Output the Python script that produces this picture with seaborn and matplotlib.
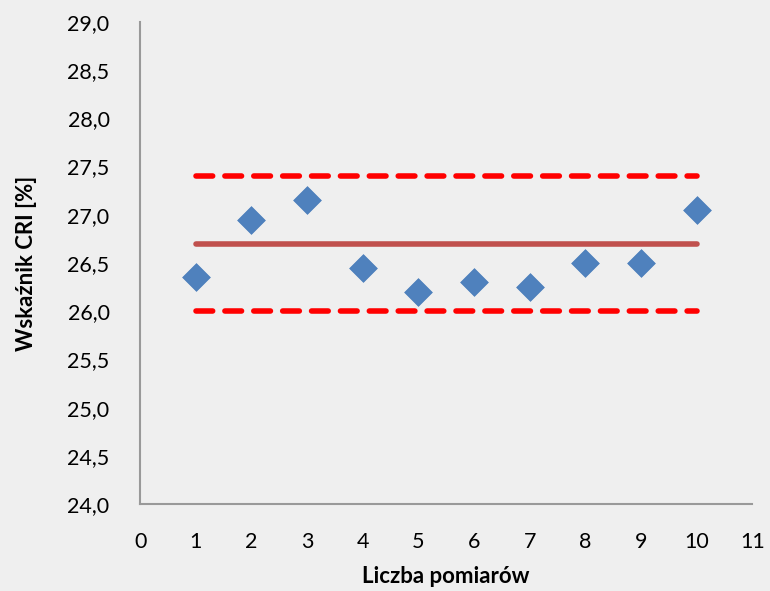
import matplotlib
matplotlib.use("Agg")
import matplotlib.pyplot as plt
import matplotlib.font_manager as fm
import seaborn as sns
import pandas as pd

# Measurement results
pomiary = [1, 2, 3, 4, 5, 6, 7, 8, 9, 10]
cri = [26.35, 26.95, 27.15, 26.45, 26.2, 26.3, 26.25, 26.5, 26.5, 27.05]

# Mean and control limits
srednia = 26.7
granica_gorna = 27.4
granica_dolna = 26.0

x_ticks = list(range(0, 12))
y_ticks = [24.0, 24.5, 25.0, 25.5, 26.0, 26.5, 27.0, 27.5, 28.0, 28.5, 29.0]

bg = "#efefef"
sns.set_theme(style="white")
names = {f.name for f in fm.fontManager.ttflist}
family = "Liberation Sans Narrow" if "Liberation Sans Narrow" in names else "Lato"
plt.rcParams["font.family"] = [family, "DejaVu Sans"]

fig = plt.figure(figsize=(7.7, 5.91), dpi=100, facecolor=bg)
ax = fig.add_axes([0.182, 0.147, 0.795, 0.816], facecolor=bg)

df = pd.DataFrame({"x": pomiary, "y": cri})
lines = pd.DataFrame({
    "x": [pomiary[0], pomiary[-1]],
    "mean": [srednia, srednia],
    "upper": [granica_gorna, granica_gorna],
    "lower": [granica_dolna, granica_dolna],
})

for col in ["upper", "lower"]:
    sns.lineplot(data=lines, x="x", y=col, ax=ax, color="#ff0000", lw=4,
                 dashes=False, solid_capstyle="round")
    ax.lines[-1].set_linestyle((0, (3.0, 2.2)))
    ax.lines[-1].set_dash_capstyle("round")

sns.lineplot(data=lines, x="x", y="mean", ax=ax, color="#c0504d", lw=4,
             solid_capstyle="round")

sns.scatterplot(data=df, x="x", y="y", ax=ax, marker="D", s=200,
                color="#4f81bd", edgecolor="#4a7ebb", linewidth=0.5, zorder=5)

ax.set_xlim(0, 11)
ax.set_ylim(24, 29)
ax.set_xticks(x_ticks)
ax.set_xticklabels([str(t) for t in x_ticks])
ax.set_yticks(y_ticks)
ax.set_yticklabels([f"{t:.1f}".replace(".", ",") for t in y_ticks])
ax.tick_params(axis="both", length=0, labelsize=15.5, colors="#000000")
ax.tick_params(axis="x", pad=20)
ax.tick_params(axis="y", pad=22)

for s in ["top", "right"]:
    ax.spines[s].set_visible(False)
for s in ["left", "bottom"]:
    ax.spines[s].set_color("#999999")
    ax.spines[s].set_linewidth(1.5)

ax.set_xlabel("Liczba pomiarów", fontsize=16, fontweight="bold", labelpad=10,
              color="#000000")
ax.set_ylabel("Wskaźnik CRI [%]", fontsize=16, fontweight="bold", labelpad=22,
              color="#000000")

fig.savefig("out.png", dpi=100, facecolor=bg)
